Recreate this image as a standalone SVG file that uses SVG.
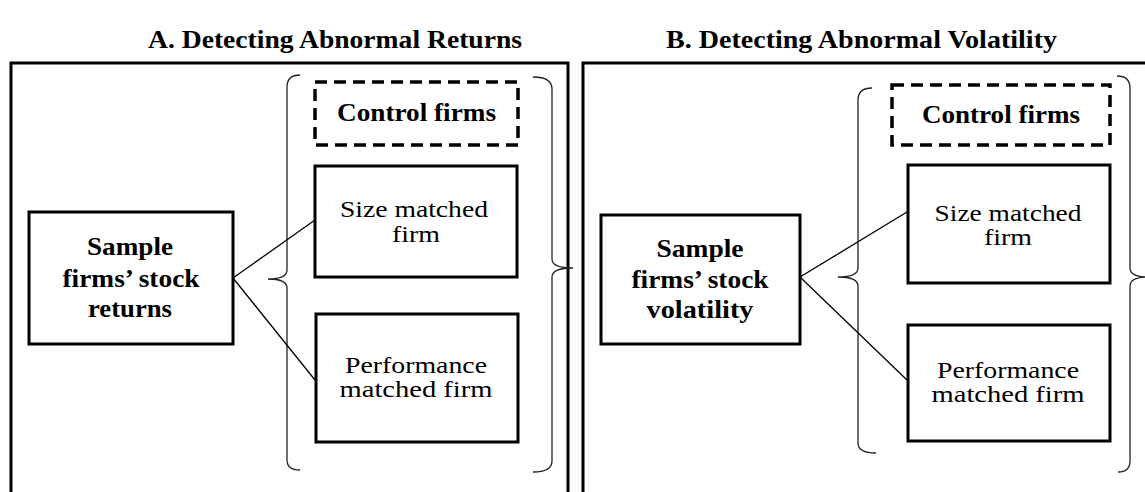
<svg xmlns="http://www.w3.org/2000/svg" width="1145" height="492" viewBox="0 0 1145 492">
<style>
.panel{fill:none;stroke:#000;stroke-width:3}
.box{fill:#fff;stroke:#000;stroke-width:3}
.dash{fill:#fff;stroke:#000;stroke-width:3.5;stroke-dasharray:12 7}
.brace{fill:none;stroke:#222;stroke-width:1.3}
.conn{fill:none;stroke:#000;stroke-width:1.3}
.t{font-family:"Liberation Serif","Times New Roman",serif;font-size:24px;fill:#000;text-anchor:middle}
.b{font-weight:bold;font-size:25px}
.title{font-family:"Liberation Serif","Times New Roman",serif;font-size:25px;font-weight:bold;fill:#000}
</style>
<rect width="1145" height="492" fill="#fff"/>
<g id="titles">
<text class="title" x="148" y="48" textLength="374" lengthAdjust="spacingAndGlyphs">A. Detecting Abnormal Returns</text>
<text class="title" x="666" y="48" textLength="391" lengthAdjust="spacingAndGlyphs">B. Detecting Abnormal Volatility</text>
</g>
<g id="panelA">
<rect class="panel" x="11" y="63" width="557" height="450"/>
</g>
<g id="panelB">
<rect class="panel" x="583" y="63" width="580" height="450"/>
</g>
<g id="braces">
<path class="brace" d="M300,75 Q287,75 287,87 L287,270 Q287,279 268,279 Q287,279 287,288 L287,460 Q287,470 300,470"/>
<path class="brace" d="M533,77 Q552,77 552,89 L552,259 Q552,268 573,268 Q552,268 552,277 L552,461 Q552,472 533,472"/>
<path class="brace" d="M872,88 Q858,88 858,100 L858,268 Q858,277 838,277 Q858,277 858,286 L858,443 Q858,453 876,453"/>
<path class="brace" d="M1117,76 Q1130,76 1130,88 L1130,268 Q1130,277 1148,277 Q1130,277 1130,286 L1130,461 Q1130,472 1118,472"/>
</g>
<g id="connectors">
<path class="conn" d="M233,278 L315,220"/>
<path class="conn" d="M233,278 L315,380"/>
<path class="conn" d="M800,277 L907,212"/>
<path class="conn" d="M800,277 L907,380"/>
</g>
<g id="sampleA">
<rect class="box" x="29" y="212" width="204" height="132"/>
<text class="t b" x="130" y="255" textLength="86" lengthAdjust="spacingAndGlyphs">Sample</text>
<text class="t b" x="131" y="287" textLength="137" lengthAdjust="spacingAndGlyphs">firms’ stock</text>
<text class="t b" x="130" y="317" textLength="84" lengthAdjust="spacingAndGlyphs">returns</text>
</g>
<g id="controlA">
<rect class="dash" x="315" y="82" width="203" height="63"/>
<text class="t b" x="416.5" y="121" textLength="159" lengthAdjust="spacingAndGlyphs">Control firms</text>
</g>
<g id="sizeA">
<rect class="box" x="315" y="166" width="202" height="111"/>
<text class="t" x="414" y="217" textLength="148" lengthAdjust="spacingAndGlyphs">Size matched</text>
<text class="t" x="416" y="242" textLength="48" lengthAdjust="spacingAndGlyphs">firm</text>
</g>
<g id="perfA">
<rect class="box" x="316" y="314" width="202" height="128"/>
<text class="t" x="416" y="373" textLength="142" lengthAdjust="spacingAndGlyphs">Performance</text>
<text class="t" x="416" y="397" textLength="153" lengthAdjust="spacingAndGlyphs">matched firm</text>
</g>
<g id="sampleB">
<rect class="box" x="601" y="215" width="199" height="129"/>
<text class="t b" x="700" y="257" textLength="87" lengthAdjust="spacingAndGlyphs">Sample</text>
<text class="t b" x="700" y="288" textLength="137" lengthAdjust="spacingAndGlyphs">firms’ stock</text>
<text class="t b" x="700" y="318" textLength="107" lengthAdjust="spacingAndGlyphs">volatility</text>
</g>
<g id="controlB">
<rect class="dash" x="892" y="85" width="218" height="60"/>
<text class="t b" x="1001" y="123" textLength="158" lengthAdjust="spacingAndGlyphs">Control firms</text>
</g>
<g id="sizeB">
<rect class="box" x="908" y="165" width="202" height="118"/>
<text class="t" x="1008" y="221" textLength="147" lengthAdjust="spacingAndGlyphs">Size matched</text>
<text class="t" x="1008" y="245" textLength="48" lengthAdjust="spacingAndGlyphs">firm</text>
</g>
<g id="perfB">
<rect class="box" x="908" y="325" width="202" height="116"/>
<text class="t" x="1008" y="378" textLength="142" lengthAdjust="spacingAndGlyphs">Performance</text>
<text class="t" x="1008" y="402" textLength="153" lengthAdjust="spacingAndGlyphs">matched firm</text>
</g>
</svg>
